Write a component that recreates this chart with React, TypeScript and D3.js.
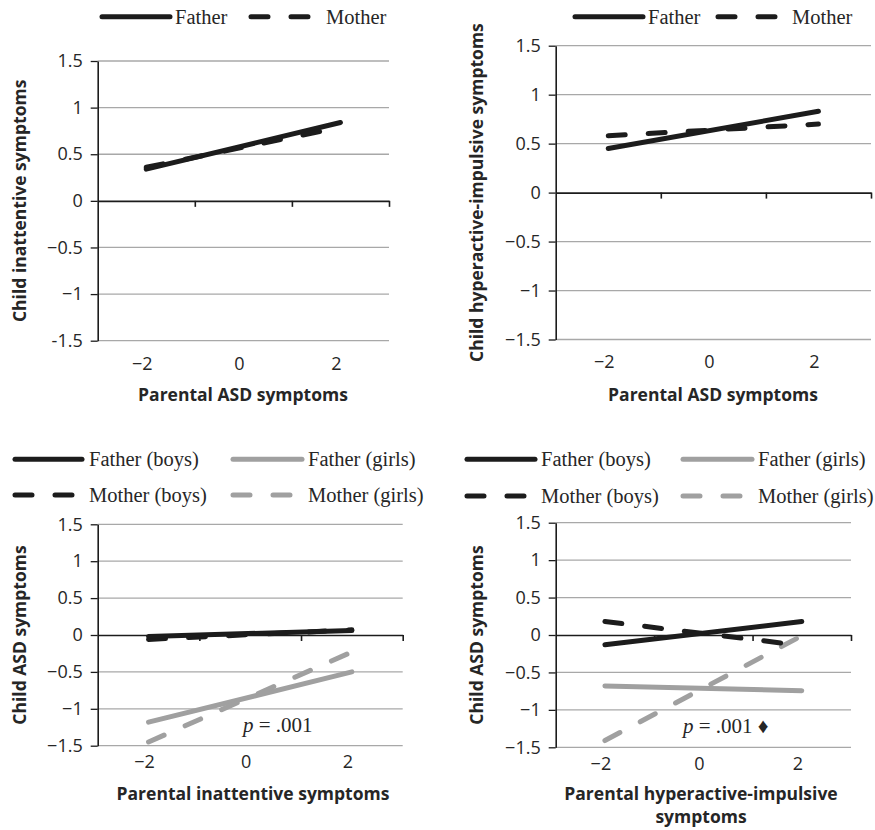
import React, { useEffect, useRef } from 'react'
import * as d3 from 'd3'

// Simple slopes at -2 / +2 of the parental score
const slopeX = [-2, 2]
const xTickLabels = [-2, 0, 2]
const xTickMarks = [-1, 1, 3]
const yTicks = [1.5, 1, 0.5, 0, -0.5, -1, -1.5]
const yTickTextA = ['1.5', '1', '0.5', '0', '\u22120.5', '\u22121', '-1.5']
const yTickTextB = ['1.5', '1', '0.5', '0', '\u22120.5', '\u22121', '\u22121.5']

const topLegend = ['Father', 'Mother']
const bottomLegend = ['Father (boys)', 'Father (girls)', 'Mother (boys)', 'Mother (girls)']

// panel A: child inattentive ~ parental ASD
const fatherA = [0.34, 0.84]
const motherA = [0.36, 0.79]
// panel B: child hyperactive-impulsive ~ parental ASD
const fatherB = [0.45, 0.83]
const motherB = [0.58, 0.7]
// panel C: child ASD ~ parental inattentive
const fatherBoysC = [-0.02, 0.06]
const fatherGirlsC = [-1.18, -0.5]
const motherBoysC = [-0.06, 0.07]
const motherGirlsC = [-1.45, -0.23]
// panel D: child ASD ~ parental hyperactive-impulsive
const fatherBoysD = [-0.13, 0.18]
const fatherGirlsD = [-0.68, -0.745]
const motherBoysD = [0.18, -0.14]
const motherGirlsD = [-1.41, -0.01]

const BLACK = '#1c1c1c'
const GREY = '#a0a0a0'
const DASH = '17,23'
const SERIF = '"Liberation Serif", "Times New Roman", serif'
const SANS = '"Open Sans", "Noto Sans", sans-serif'

const panels = [
  {
    left: 97.7, right: 389, top: 61, bottom: 340.7,
    yTickText: yTickTextA, xLabelY: 370,
    yTitle: ['Child inattentive symptoms'], yTitleX: 20,
    xTitle: ['Parental ASD symptoms'], xTitleX: 243, xTitleY: 401,
    series: [
      { v: fatherA, color: BLACK, dash: null },
      { v: motherA, color: BLACK, dash: DASH },
    ],
    legend: [
      { x1: 102, x2: 170, y: 16.7, tx: 175, label: topLegend[0], color: BLACK, dash: null },
      { x1: 251, x2: 313, y: 16.7, tx: 326, label: topLegend[1], color: BLACK, dash: DASH },
    ],
    pText: null,
  },
  {
    left: 555.7, right: 871, top: 45.7, bottom: 339.5,
    yTickText: yTickTextB, xLabelY: 368,
    yTitle: ['Child hyperactive-impulsive symptoms'], yTitleX: 477,
    xTitle: ['Parental ASD symptoms'], xTitleX: 713, xTitleY: 401,
    series: [
      { v: fatherB, color: BLACK, dash: null },
      { v: motherB, color: BLACK, dash: DASH },
    ],
    legend: [
      { x1: 575, x2: 643, y: 16.7, tx: 648, label: topLegend[0], color: BLACK, dash: null },
      { x1: 718, x2: 778, y: 16.7, tx: 792, label: topLegend[1], color: BLACK, dash: DASH },
    ],
    pText: null,
  },
  {
    left: 97.7, right: 402.7, top: 524.3, bottom: 745.7,
    yTickText: yTickTextB, xLabelY: 768,
    yTitle: ['Child ASD symptoms'], yTitleX: 20,
    xTitle: ['Parental inattentive symptoms'], xTitleX: 253, xTitleY: 800,
    series: [
      { v: fatherGirlsC, color: GREY, dash: null },
      { v: motherGirlsC, color: GREY, dash: DASH },
      { v: motherBoysC, color: BLACK, dash: DASH },
      { v: fatherBoysC, color: BLACK, dash: null },
    ],
    legend: [
      { x1: 15, x2: 82, y: 459.3, tx: 89, label: bottomLegend[0], color: BLACK, dash: null },
      { x1: 233, x2: 302, y: 459.3, tx: 308, label: bottomLegend[1], color: GREY, dash: null },
      { x1: 15, x2: 78, y: 495, tx: 89, label: bottomLegend[2], color: BLACK, dash: DASH },
      { x1: 233, x2: 297, y: 495, tx: 308, label: bottomLegend[3], color: GREY, dash: DASH },
    ],
    pText: { x: 243, y: 731.5, extra: '' },
  },
  {
    left: 555.7, right: 851, top: 522.7, bottom: 747.3,
    yTickText: yTickTextB, xLabelY: 770,
    yTitle: ['Child ASD symptoms'], yTitleX: 477,
    xTitle: ['Parental hyperactive-impulsive', 'symptoms'], xTitleX: 701, xTitleY: 800,
    series: [
      { v: fatherGirlsD, color: GREY, dash: null },
      { v: motherGirlsD, color: GREY, dash: DASH },
      { v: motherBoysD, color: BLACK, dash: DASH },
      { v: fatherBoysD, color: BLACK, dash: null },
    ],
    legend: [
      { x1: 467, x2: 535, y: 459.3, tx: 541, label: bottomLegend[0], color: BLACK, dash: null },
      { x1: 683, x2: 752, y: 459.3, tx: 758, label: bottomLegend[1], color: GREY, dash: null },
      { x1: 467, x2: 530, y: 496, tx: 541, label: bottomLegend[2], color: BLACK, dash: DASH },
      { x1: 683, x2: 747, y: 496, tx: 758, label: bottomLegend[3], color: GREY, dash: DASH },
    ],
    pText: { x: 683, y: 733, extra: ' \u2666' },
  },
]

function Panel({ cfg }: { cfg: any }) {
  const ref = useRef<SVGGElement>(null)

  useEffect(() => {
    const g = d3.select(ref.current)
    g.selectAll('*').remove()

    const x = d3.scaleLinear().domain([-3, 3]).range([cfg.left, cfg.right])
    const y = d3.scaleLinear().domain([-1.5, 1.5]).range([cfg.bottom, cfg.top])

    // horizontal gridlines (0 is the x axis itself)
    g.append('g')
      .selectAll('line')
      .data(yTicks.filter((d) => d !== 0))
      .join('line')
      .attr('x1', cfg.left)
      .attr('x2', cfg.right)
      .attr('y1', (d) => y(d))
      .attr('y2', (d) => y(d))
      .attr('stroke', '#a8a8a8')
      .attr('stroke-width', 1.3)

    // y axis
    const yAxis = g
      .append('g')
      .attr('transform', 'translate(' + cfg.left + ',0)')
      .call(
        d3
          .axisLeft(y)
          .tickValues(yTicks)
          .tickSize(7)
          .tickSizeOuter(0)
          .tickPadding(8)
          .tickFormat((d, i) => cfg.yTickText[i])
      )
    yAxis.select('.domain').attr('stroke', BLACK).attr('stroke-width', 1.6)
    yAxis.selectAll('.tick line').attr('stroke', BLACK).attr('stroke-width', 1.3)
    yAxis
      .selectAll('.tick text')
      .attr('fill', '#262626')
      .style('font-family', SANS)
      .style('font-size', '18px')

    // x axis along y = 0, tick marks only
    const xAxis = g
      .append('g')
      .attr('transform', 'translate(0,' + y(0) + ')')
      .call(d3.axisBottom(x).tickValues(xTickMarks).tickSize(6).tickSizeOuter(0).tickFormat(() => ''))
    xAxis.select('.domain').attr('stroke', BLACK).attr('stroke-width', 1.6)
    xAxis.selectAll('.tick line').attr('stroke', BLACK).attr('stroke-width', 1.6)

    g.append('g')
      .selectAll('text')
      .data(xTickLabels)
      .join('text')
      .attr('x', (d) => x(d) - 4)
      .attr('y', cfg.xLabelY)
      .attr('text-anchor', 'middle')
      .attr('fill', '#262626')
      .style('font-family', SANS)
      .style('font-size', '18px')
      .text((d) => (d < 0 ? '\u2212' + Math.abs(d) : String(d)))

    // slope lines
    const line = d3
      .line<number>()
      .x((d, i) => x(slopeX[i]))
      .y((d) => y(d))
    g.append('g')
      .selectAll('path')
      .data(cfg.series)
      .join('path')
      .attr('d', (s: any) => line(s.v))
      .attr('fill', 'none')
      .attr('stroke', (s: any) => s.color)
      .attr('stroke-width', 5)
      .attr('stroke-linecap', 'round')
      .attr('stroke-dasharray', (s: any) => s.dash)

    // legend
    const lg = g.append('g').selectAll('g').data(cfg.legend).join('g')
    lg.append('line')
      .attr('x1', (d: any) => d.x1)
      .attr('x2', (d: any) => d.x2)
      .attr('y1', (d: any) => d.y)
      .attr('y2', (d: any) => d.y)
      .attr('stroke', (d: any) => d.color)
      .attr('stroke-width', 5)
      .attr('stroke-linecap', 'round')
      .attr('stroke-dasharray', (d: any) => d.dash)
    lg.append('text')
      .attr('x', (d: any) => d.tx)
      .attr('y', (d: any) => d.y + 7)
      .attr('fill', '#262626')
      .style('font-family', SERIF)
      .style('font-size', '20.5px')
      .text((d: any) => d.label)

    // axis titles
    g.append('text')
      .attr('transform', 'translate(' + cfg.yTitleX + ',' + (cfg.top + cfg.bottom) / 2 + ') rotate(-90)')
      .attr('text-anchor', 'middle')
      .attr('dy', '0.35em')
      .attr('fill', '#262626')
      .style('font-family', SANS)
      .style('font-weight', 'bold')
      .style('font-size', '17.5px')
      .text(cfg.yTitle[0])

    g.append('g')
      .selectAll('text')
      .data(cfg.xTitle)
      .join('text')
      .attr('x', cfg.xTitleX)
      .attr('y', (d, i) => cfg.xTitleY + i * 23)
      .attr('text-anchor', 'middle')
      .attr('fill', '#262626')
      .style('font-family', SANS)
      .style('font-weight', 'bold')
      .style('font-size', '17.5px')
      .text((d: any) => d)

    // significance note
    if (cfg.pText) {
      const t = g
        .append('text')
        .attr('x', cfg.pText.x)
        .attr('y', cfg.pText.y)
        .attr('fill', '#262626')
        .style('font-family', SERIF)
        .style('font-size', '21px')
      t.append('tspan').style('font-style', 'italic').text('p')
      t.append('tspan').text(' = .001' + cfg.pText.extra)
    }
  }, [cfg])

  return <g ref={ref} />
}

export default function App() {
  return (
    <svg
      width={875}
      height={830}
      style={{ position: 'absolute', left: 0, top: 0, background: '#fff' }}
    >
      <rect width={875} height={830} fill="#fff" />
      {panels.map((p, i) => (
        <Panel key={i} cfg={p} />
      ))}
    </svg>
  )
}
